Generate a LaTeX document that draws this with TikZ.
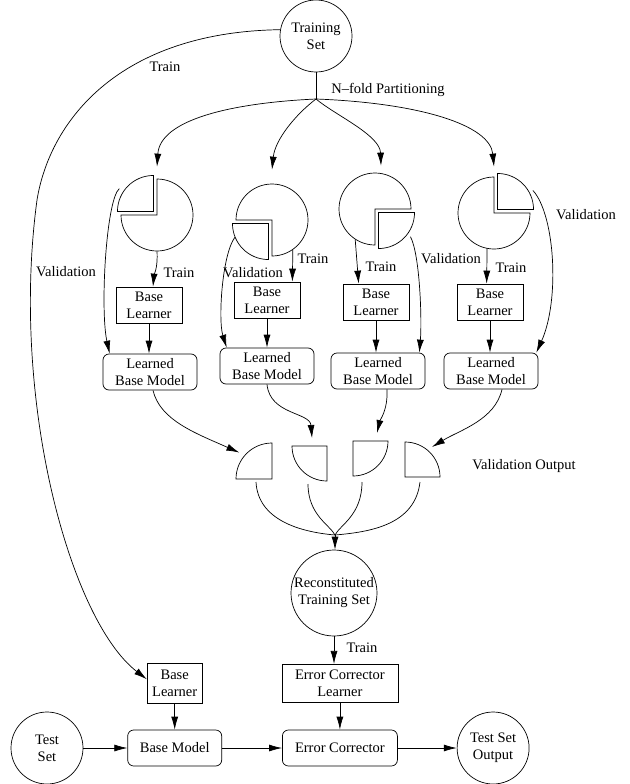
\documentclass[tikz,border=0pt]{standalone}
\usepackage{fontspec}
\setmainfont{Liberation Serif}
\usetikzlibrary{positioning,arrows.meta}

\begin{document}
\begin{tikzpicture}[
  x=1pt, y=1pt, line width=0.7pt,
  font=\fontsize{14.5}{17}\selectfont,
  dataset/.style={circle, draw, align=center, inner sep=0pt, minimum size=72pt},
  learner/.style={rectangle, draw, align=center, inner sep=2pt,
    minimum width=66pt, minimum height=36pt},
  model/.style={rectangle, rounded corners=6pt, draw, align=center, inner sep=2pt,
    minimum width=94pt, minimum height=36pt},
  fold/.style={circle, inner sep=0pt, minimum size=72pt},
  arr/.style={-{Latex[length=13pt,width=7pt]}}]
  \useasboundingbox (0,0) rectangle (629,-784);

  \node[dataset] (trainset) at (316,-36) {Training\\Set};
  \coordinate (split) at (316,-99);
  \node (lsplit) at (388,-90) {N--fold Partitioning};

  \node[fold] (p1) at (157,-215) {};
  \node[fold] (p2) at (272,-220) {};
  \node[fold] (p3) at (375,-209) {};
  \node[fold] (p4) at (494,-213) {};

  \node[learner] (bl1) at (149,-305) {Base\\Learner};
  \node[learner] (bl2) at (267,-300) {Base\\Learner};
  \node[learner] (bl3) at (376,-302) {Base\\Learner};
  \node[learner] (bl4) at (490,-302) {Base\\Learner};

  \node[model] (lbm1) at (150,-372) {Learned\\Base Model};
  \node[model] (lbm2) at (267,-366) {Learned\\Base Model};
  \node[model] (lbm3) at (378,-371) {Learned\\Base Model};
  \node[model] (lbm4) at (491,-371) {Learned\\Base Model};

  \coordinate (vo1) at (272,-479);
  \coordinate (vo2) at (327,-446);
  \coordinate (vo3) at (353,-441);
  \coordinate (vo4) at (405,-477);
  \coordinate (join) at (335,-535);
  \node (lvout) at (524,-466) {Validation Output};

  \node[dataset, minimum size=86pt] (recon) at (334,-593) {Reconstituted\\Training Set};

  \node[dataset] (testset) at (47,-748) {Test\\Set};
  \node[model, right=44pt of testset] (basemodel) {Base Model};
  \node[model, minimum width=115pt, right=60pt of basemodel] (errcorr) {Error Corrector};
  \node[dataset, right=59pt of errcorr] (testout) {Test Set\\Output};
  \node[learner, minimum width=55pt, minimum height=40pt, above=26pt of basemodel] (bl0) {Base\\Learner};
  \node[learner, minimum width=116pt, minimum height=38pt, above=27pt of errcorr] (ecl) {Error Corrector\\Learner};

  \draw (p1.center) -- ++(180:36) arc[start angle=180, end angle=450, radius=36pt] -- cycle;
  \draw ([shift={(135:5)}]p1.center) -- ++(90:36) arc[start angle=90, end angle=180, radius=36pt] -- cycle;
  \draw (p2.center) -- ++(270:36) arc[start angle=270, end angle=540, radius=36pt] -- cycle;
  \draw ([shift={(225:5)}]p2.center) -- ++(180:36) arc[start angle=180, end angle=270, radius=36pt] -- cycle;
  \draw (p3.center) -- ++(0:36) arc[start angle=0, end angle=270, radius=36pt] -- cycle;
  \draw ([shift={(315:5)}]p3.center) -- ++(270:36) arc[start angle=270, end angle=360, radius=36pt] -- cycle;
  \draw (p4.center) -- ++(90:36) arc[start angle=90, end angle=360, radius=36pt] -- cycle;
  \draw ([shift={(45:5)}]p4.center) -- ++(0:36) arc[start angle=0, end angle=90, radius=36pt] -- cycle;

  \draw (vo1) -- ++(180:36) arc[start angle=180, end angle=90, radius=36pt] -- cycle;
  \draw (vo2) -- ++(180:35) arc[start angle=180, end angle=270, radius=35pt] -- cycle;
  \draw (vo3) -- ++(270:35) arc[start angle=270, end angle=360, radius=35pt] -- cycle;
  \draw (vo4) -- ++(0:35) arc[start angle=0, end angle=90, radius=35pt] -- cycle;

  \draw (trainset) -- (split);
  \draw[arr] (split) .. controls (230,-103) and (160,-120) .. ([yshift=12pt]p1.north);
  \draw[arr] (split) .. controls (295,-115) and (275,-140) .. ([yshift=14pt]p2.north);
  \draw[arr] (split) .. controls (335,-115) and (380,-135) .. ([shift={(6,7)}]p3.north);
  \draw[arr] (split) .. controls (420,-103) and (490,-125) .. ([yshift=10pt]p4.north);

  \draw[arr] (trainset.170) .. controls (120,-32) and (50,-120) .. (37,-200)
    .. controls (10,-400) and (70,-620) .. ([yshift=4pt]bl0.west);
  \node (ltrain0) at (165,-67) {Train};

  \draw[arr] (p1.south) .. controls (158,-268) and (154,-275) .. ([xshift=4pt]bl1.north);
  \draw[arr] (p2.-55) -- ([xshift=-8pt]bl2.north east);
  \draw[arr] (p3.-123) -- ([xshift=16pt]bl3.north west);
  \draw[arr] (p4.-101) -- ([xshift=30pt]bl4.north west);
  \node (ltrain1) at (179,-273) {Train};
  \node (ltrain2) at (313,-259) {Train};
  \node (ltrain3) at (381,-267) {Train};
  \node (ltrain4) at (511,-268) {Train};

  \draw[arr] (bl1.south) -- (bl1.south |- lbm1.north);
  \draw[arr] (bl2.south) -- (bl2.south |- lbm2.north);
  \draw[arr] (bl3.south) -- (bl3.south |- lbm3.north);
  \draw[arr] (bl4.south) -- (bl4.south |- lbm4.north);

  \draw[arr] ([shift={(145:46)}]p1.center) .. controls (106,-200) and (100,-310) .. ([xshift=7pt]lbm1.north west);
  \draw[arr] ([shift={(205:41)}]p2.center) .. controls (222,-255) and (218,-320) .. ([xshift=7pt]lbm2.north west);
  \draw[arr] ([shift={(-38:45)}]p3.center) .. controls (420,-255) and (422,-320) .. ([xshift=-6pt]lbm3.north east);
  \draw[arr] ([shift={(30:45)}]p4.center) .. controls (555,-215) and (560,-300) .. ([xshift=-2pt]lbm4.north east);
  \node (lval1) at (66,-272) {Validation};
  \node (lval2) at (253,-273) {Validation};
  \node (lval3) at (451,-259) {Validation};
  \node (lval4) at (586,-215) {Validation};

  \draw[arr] ([xshift=3pt]lbm1.south) .. controls (160,-420) and (195,-433) .. ([shift={(141:42)}]vo1);
  \draw[arr] (lbm2.south) .. controls (270,-415) and (310,-412) .. ([shift={(-15,8)}]vo2);
  \draw[arr] ([xshift=9pt]lbm3.south) .. controls (388,-410) and (380,-420) .. ([shift={(24,8)}]vo3);
  \draw[arr] ([xshift=11pt]lbm4.south) .. controls (495,-420) and (460,-430) .. ([shift={(27,30)}]vo4);

  \draw ([shift={(-16,-3)}]vo1) .. controls (258,-520) and (300,-532) .. (join);
  \draw ([shift={(-19,-38)}]vo2) .. controls (308,-515) and (330,-525) .. (join);
  \draw ([shift={(9,-41)}]vo3) .. controls (362,-515) and (340,-525) .. (join);
  \draw ([shift={(15,-5)}]vo4) .. controls (415,-525) and (370,-532) .. (join);
  \draw[arr] (join) -- (join |- recon.north);

  \draw[arr] (recon.south) -- (recon.south |- ecl.north);
  \node (ltrain5) at (362,-648) {Train};

  \draw[arr] (bl0) -- (basemodel);
  \draw[arr] (ecl) -- (errcorr);
  \draw[arr] (testset) -- (basemodel);
  \draw[arr] (basemodel) -- (errcorr);
  \draw[arr] (errcorr) -- (testout);
\end{tikzpicture}
\end{document}
